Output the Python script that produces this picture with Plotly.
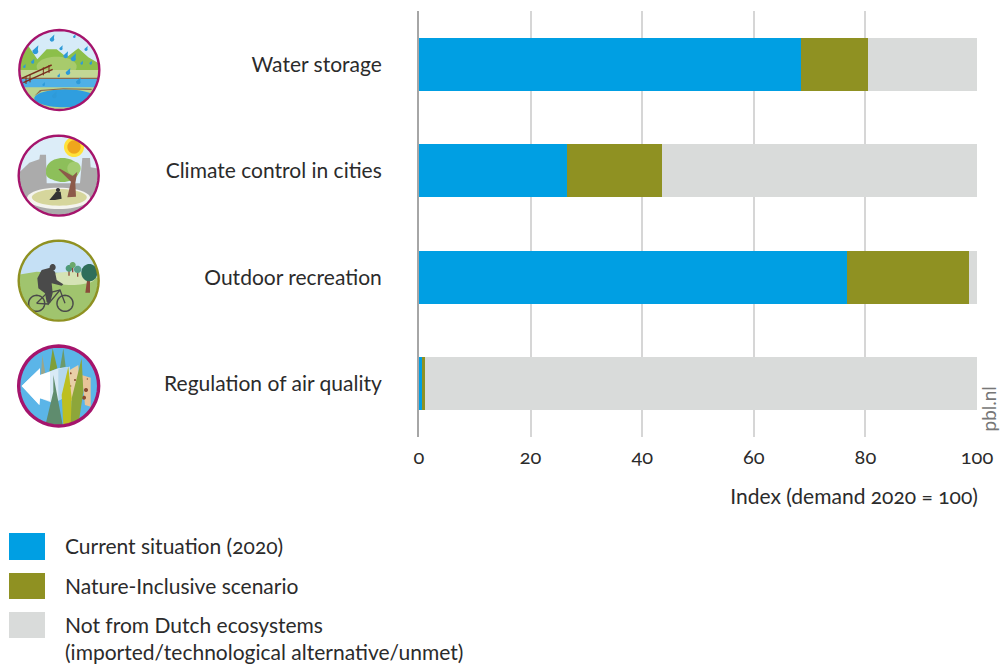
import math
import plotly.graph_objects as go

categories = ["Water storage", "Climate control in cities", "Outdoor recreation", "Regulation of air quality"]
current = [68.5, 26.5, 76.7, 0.6]
nature = [12.0, 17.0, 21.8, 0.4]
not_dutch = [19.5, 56.5, 1.5, 99.0]
x_ticks = [0, 20, 40, 60, 80, 100]
series_names = ["Current situation (2020)", "Nature-Inclusive scenario",
                "Not from Dutch ecosystems<br>(imported/technological alternative/unmet)"]
colors = ["#009FE3", "#8F9122", "#D9DBDA"]
FONT = "Lato"
TXT = "#2b2b2b"

W, H = 1000, 664
L, R, T, B = 419, 23, 11, 227
PW = W - L - R
PH = H - T - B

shapes = []
def px(x): return (x - L) / PW
def py(y): return 1 - (y - T) / PH

def poly(pts, fill, off=(0, 10), line=None, lw=0, close=True):
    d = ""
    for i, (x, y) in enumerate(pts):
        X = px(off[0] + x / 3); Y = py(off[1] + y / 3)
        d += ("M" if i == 0 else "L") + f"{X:.5f},{Y:.5f} "
    if close:
        d += "Z"
    s = dict(type="path", path=d, xref="paper", yref="paper", layer="above",
             line=dict(width=lw, color=line or "rgba(0,0,0,0)"))
    s["fillcolor"] = fill if fill else "rgba(0,0,0,0)"
    shapes.append(s)

def ell(cx, cy, rx, ry, n=48):
    return [(cx + rx * math.cos(2 * math.pi * i / n), cy + ry * math.sin(2 * math.pi * i / n)) for i in range(n)]

def oval(cx, cy, rx, ry, fill, off, line=None, lw=0):
    poly(ell(cx, cy, rx, ry), fill, off, line, lw)

def drop(cx, cy, s, off, c="#2E9AD8"):
    s = s * 1.35
    p = [(cx + s * 0.75, cy - s * 1.5)]
    p += [(cx + s * 0.75 * math.cos(a / 8 * 2 * math.pi - 0.6), cy + s * 0.75 * math.sin(a / 8 * 2 * math.pi - 0.6)) for a in range(0, 6)]
    poly(p, c, off)

def seg(pts, c, w, off):
    poly(pts, None, off, c, w, close=False)

def frame(cx, cy, r, ring, off, lw=2.4):
    # white mask outside the disc, then the coloured ring
    n = 64
    o = ell(cx, cy, r + 68, r + 68, n); i = ell(cx, cy, r, r, n)
    d = ""
    for k, loop in enumerate((o, i)):
        for j, (x, y) in enumerate(loop):
            d += ("M" if j == 0 else "L") + f"{px(off[0] + x / 3):.5f},{py(off[1] + y / 3):.5f} "
        d += "Z "
    shapes.append(dict(type="path", path=d, xref="paper", yref="paper", layer="above",
                       fillcolor="white", line=dict(width=0, color="rgba(0,0,0,0)")))
    oval(cx, cy, r, r, None, off, ring, lw)

# Icon 1: water storage
o = (0, 10)
oval(178, 180, 122, 122, "#D6EBF8", o)
poly([(50, 160), (85, 108), (112, 148), (140, 118), (170, 118), (200, 142), (235, 115), (265, 142), (305, 165), (305, 185), (50, 185)], "#8CBF4A", o)
oval(170, 170, 60, 30, "#A8CB6C", o)
poly([(50, 180), (305, 180), (305, 205), (50, 205)], "#C3D795", o)
poly([(50, 205), (305, 205), (305, 238), (50, 238)], "#4FB0E6", o)
poly([(50, 203), (305, 203), (305, 207), (50, 207)], "#8B6A50", o)
poly([(50, 232), (305, 232), (305, 305), (50, 305)], "#BAD48F", o)
oval(195, 265, 92, 27, "#2F9EDF", o)
poly([(103, 258), (125, 243), (190, 238), (275, 240), (275, 236), (190, 235), (120, 240)], "#8B6A50", o)
seg([(65, 205), (155, 165)], "#7A2E1E", 1.5, o)
seg([(70, 218), (158, 178)], "#7A2E1E", 1.5, o)
for xx, yy in [(78, 198), (90, 193), (130, 172), (147, 165)]:
    seg([(xx, yy), (xx, yy + 24)], "#7A2E1E", 1, o)
for xx, yy, s in [(156, 88, 7), (223, 80, 4), (106, 124, 9), (183, 116, 5), (258, 118, 5), (197, 138, 7), (220, 146, 8),
                  (245, 160, 4), (272, 160, 4), (98, 156, 5), (73, 170, 4), (204, 188, 7), (176, 198, 4), (235, 216, 7),
                  (131, 224, 4), (163, 258, 7)]:
    drop(xx, yy, s, o)
frame(178, 180, 120, "#A5146C", o)

# Icon 2: climate control in cities
oval(176, 497, 122, 122, "#DCEDF8", o)
poly([(50, 495), (88, 458), (118, 448), (120, 434), (138, 434), (140, 520), (240, 520), (247, 444), (270, 444), (272, 472), (305, 478),
      (305, 625), (50, 625)], "#ABABAB", o)
oval(176, 565, 95, 32, "#F4F4EE", o)
oval(178, 562, 82, 25, "#D6D69C", o)
oval(188, 480, 50, 36, "#8DBF5A", o)
oval(222, 475, 20, 20, "#A3CC72", o)
oval(160, 490, 22, 18, "#8DBF5A", o)
poly([(202, 562), (213, 515), (175, 478), (180, 476), (218, 498), (232, 485), (226, 520), (228, 560)], "#8C5A4A", o)
oval(222, 411, 30, 30, "#FFE23A", o)
oval(222, 411, 20, 20, "#EFA61C", o)
oval(174, 540, 6, 6, "#333333", o)
poly([(148, 570), (163, 552), (168, 545), (182, 545), (185, 566), (165, 570)], "#333333", o)
frame(176, 497, 120, "#A5146C", o)

# Icon 3: outdoor recreation
o = (0, 225)
oval(176, 167, 122, 122, "#C5E0F5", o)
poly([(50, 150), (110, 140), (200, 145), (305, 160), (305, 295), (50, 295)], "#A0C46E", o)
oval(215, 160, 70, 20, "#D5E3B5", o)
for xx, yy, r, c in [(207, 130, 10, "#4E9A78"), (218, 120, 9, "#6BA86A"), (233, 133, 11, "#5BA08A")]:
    poly([(xx - 2, yy), (xx + 2, yy), (xx + 2, yy + 22), (xx - 2, yy + 22)], "#8B4A3A", o)
    oval(xx, yy, r, r, c, o)
poly([(262, 160), (270, 160), (270, 203), (256, 203)], "#8B4A3A", o)
oval(268, 143, 24, 26, "#2F6E5A", o)
oval(158, 127, 9, 10, "#4A4A4A", o)
poly([(112, 160), (125, 135), (150, 128), (165, 140), (170, 165), (190, 178), (185, 182), (155, 175), (158, 205), (150, 235), (140, 232),
      (135, 205), (115, 190)], "#4A4A4A", o)
oval(110, 235, 24, 24, None, o, "#4A4A4A", 1.5)
oval(195, 235, 24, 24, None, o, "#4A4A4A", 1.5)
seg([(110, 235), (140, 205), (180, 195), (195, 235)], "#4A4A4A", 1.3, o)
seg([(140, 205), (145, 237), (180, 195)], "#4A4A4A", 1.3, o)
seg([(110, 235), (145, 237)], "#4A4A4A", 1.3, o)
frame(176, 167, 120, "#8F9122", o)

# Icon 4: regulation of air quality
oval(176, 483, 122, 122, "#5BB5E8", o)
poly([(200, 440), (235, 420), (240, 520), (205, 530)], "#E8CFA8", o)
poly([(245, 450), (272, 458), (272, 545), (255, 540)], "#E8C498", o)
for xx, yy, r in [(212, 445, 3), (225, 465, 3), (212, 483, 2), (258, 495, 6), (252, 518, 6), (262, 462, 2)]:
    oval(xx, yy, r, r, "#8A4A30", o)
poly([(122, 460), (127, 390), (140, 470)], "#9AA68A", o)
poly([(148, 440), (158, 370), (172, 430)], "#7F9F3A", o)
poly([(180, 430), (190, 370), (197, 425)], "#6C9A6A", o)
poly([(65, 483), (120, 430), (120, 450), (175, 430), (210, 425), (205, 510), (160, 535), (120, 520), (118, 540)], "#D8EAF6", o)
poly([(65, 483), (120, 430), (120, 450), (150, 440), (150, 528), (120, 520), (118, 540)], "#FFFFFF", o)
poly([(175, 432), (210, 425), (205, 510), (175, 528)], "#B5D8EE", o)
poly([(135, 605), (160, 500), (160, 450), (190, 610)], "#5F8C6E", o)
poly([(210, 600), (215, 520), (245, 400), (250, 500), (235, 600)], "#8DA63A", o)
poly([(190, 600), (185, 510), (205, 425), (215, 520), (212, 600)], "#BDBF20", o)
frame(176, 483, 120, "#A5146C", o, 3.4)

fig = go.Figure()
for name, vals, col in zip(series_names, (current, nature, not_dutch), colors):
    fig.add_trace(go.Bar(y=categories, x=vals, name=name.replace("<br>", " "), orientation="h",
                         marker=dict(color=col, line=dict(width=0)), showlegend=False))

annotations = []
# manual legend
leg_y = [(533, 560), (573, 599), (612, 638)]
txt_y = [545, 585, 624]
for (y0, y1), ty, name, col in zip(leg_y, txt_y, series_names, colors):
    shapes.append(dict(type="rect", xref="paper", yref="paper", x0=px(9), x1=px(45), y0=py(y0), y1=py(y1),
                       fillcolor=col, line=dict(width=0)))
    annotations.append(dict(text=name, x=px(63), y=py(ty), xref="paper", yref="paper", xanchor="left",
                            yanchor="middle" if "<br>" not in name else "top", yshift=0 if "<br>" not in name else 14,
                            align="left", showarrow=False, font=dict(family=FONT, size=21, color=TXT)))
annotations.append(dict(text="Index (demand 2020 = 100)", x=px(983), y=py(495), xref="paper", yref="paper", xanchor="right",
                        yanchor="middle", showarrow=False, font=dict(family=FONT, size=21, color=TXT)))
annotations.append(dict(text="pbl.nl", x=px(987.5), y=py(409), xref="paper", yref="paper", textangle=-90,
                        xanchor="center", yanchor="middle", showarrow=False, font=dict(family=FONT, size=19, color="#777777")))

fig.update_layout(
    width=W, height=H, autosize=False,
    barmode="stack", bargap=0.5, plot_bgcolor="white", paper_bgcolor="white",
    margin=dict(l=L, r=R, t=T, b=B, autoexpand=False), showlegend=False,
    font=dict(family=FONT, color=TXT),
    shapes=shapes, annotations=annotations,
    xaxis=dict(range=[0, 100], tickvals=x_ticks, showgrid=True, gridcolor="#D6D6D6", gridwidth=2, zeroline=False,
               showline=False, ticks="", automargin=False, tickfont=dict(size=20, family=FONT, color=TXT), ticklabelstandoff=6),
    yaxis=dict(categoryorder="array", categoryarray=categories, autorange="reversed", showgrid=False, zeroline=False,
               showline=True, linecolor="#A6A6A6", linewidth=2, ticks="", ticklabelstandoff=31, automargin=False,
               tickfont=dict(size=21, family=FONT, color=TXT)),
)
fig.write_html("out.html", config=dict(displayModeBar=False),
               post_script="document.documentElement.style.overflow='hidden';document.body.style.margin='0';"
                           "document.body.style.fontFeatureSettings='\"onum\"';")
